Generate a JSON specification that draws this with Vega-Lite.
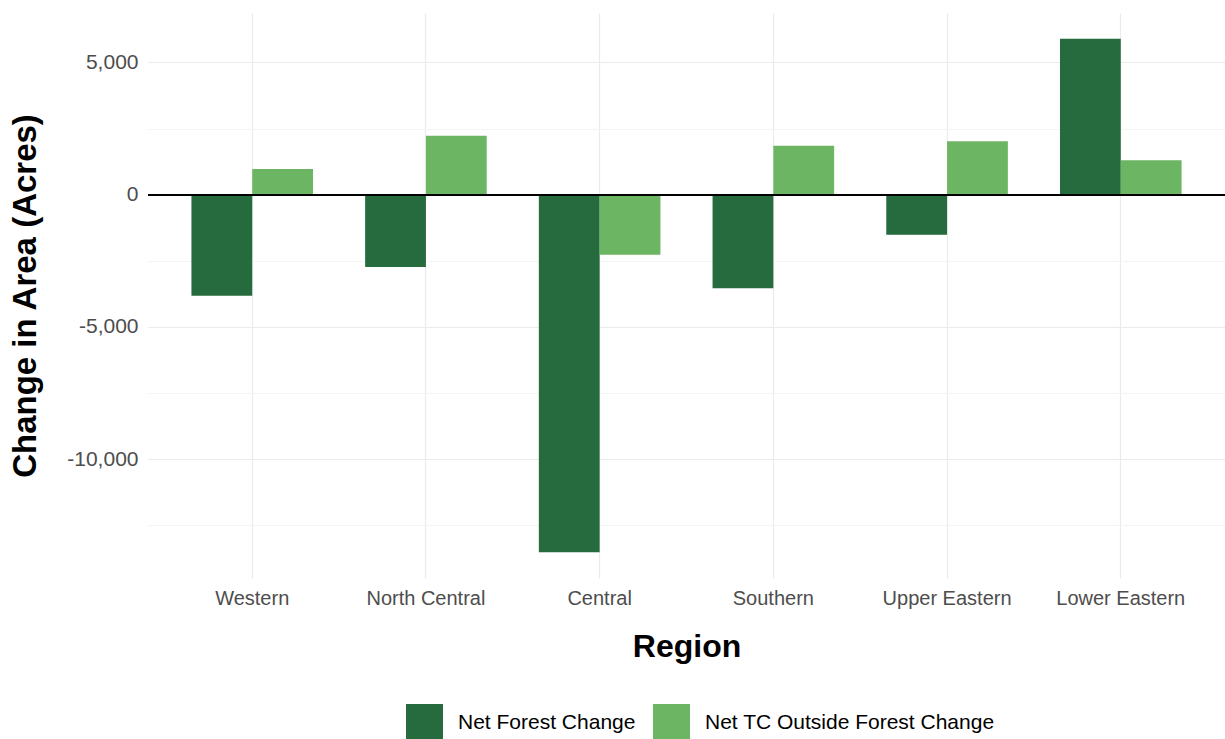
{
  "$schema": "https://vega.github.io/schema/vega-lite/v6.json",
  "autosize": {"type": "none"},
  "width": 1077,
  "height": 565,
  "padding": {"left": 148, "top": 13, "right": 0, "bottom": 161},
  "background": "white",
  "config": {
    "view": {"stroke": null},
    "font": "Liberation Sans"
  },
  "data": {
    "values": [
      {"region": "Western", "type": "Net Forest Change", "value": -3817},
      {"region": "Western", "type": "Net TC Outside Forest Change", "value": 971},
      {"region": "North Central", "type": "Net Forest Change", "value": -2733},
      {"region": "North Central", "type": "Net TC Outside Forest Change", "value": 2230},
      {"region": "Central", "type": "Net Forest Change", "value": -13518},
      {"region": "Central", "type": "Net TC Outside Forest Change", "value": -2268},
      {"region": "Southern", "type": "Net Forest Change", "value": -3540},
      {"region": "Southern", "type": "Net TC Outside Forest Change", "value": 1852},
      {"region": "Upper Eastern", "type": "Net Forest Change", "value": -1512},
      {"region": "Upper Eastern", "type": "Net TC Outside Forest Change", "value": 2016},
      {"region": "Lower Eastern", "type": "Net Forest Change", "value": 5896},
      {"region": "Lower Eastern", "type": "Net TC Outside Forest Change", "value": 1297}
    ]
  },
  "layer": [
    {
      "mark": {"type": "bar"},
      "encoding": {
        "x": {
          "field": "region",
          "type": "nominal",
          "sort": ["Western", "North Central", "Central", "Southern", "Upper Eastern", "Lower Eastern"],
          "scale": {"paddingInner": 0.3, "paddingOuter": 0.25},
          "axis": {
            "title": "Region",
            "titleFontSize": 32,
            "titleFontWeight": "bold",
            "titleColor": "black",
            "titlePadding": 23,
            "labelAngle": 0,
            "labelFontSize": 20,
            "labelColor": "#4d4d4d",
            "labelPadding": 10,
            "labelLimit": 0,
            "ticks": false,
            "domain": false,
            "grid": true,
            "gridColor": "#ebebeb",
            "gridWidth": 1.2,
            "bandPosition": 0.5
          }
        },
        "xOffset": {
          "field": "type",
          "type": "nominal",
          "sort": ["Net Forest Change", "Net TC Outside Forest Change"]
        },
        "y": {
          "field": "value",
          "type": "quantitative",
          "scale": {"domain": [-14488, 6867], "nice": false, "zero": false},
          "axis": {
            "title": "Change in Area (Acres)",
            "titleFontSize": 33,
            "titleFontWeight": "bold",
            "titleColor": "black",
            "titlePadding": 24,
            "values": [-12500, -10000, -7500, -5000, -2500, 0, 2500, 5000],
            "labelExpr": "datum.value % 5000 === 0 ? replace(format(datum.value, ','), '\u2212', '-') : ''",
            "labelFontSize": 21,
            "labelColor": "#4d4d4d",
            "labelPadding": 10,
            "ticks": false,
            "domain": false,
            "grid": true,
            "gridColor": {"condition": {"test": "datum.value % 5000 === 0", "value": "#ebebeb"}, "value": "#f4f4f4"},
            "gridWidth": 1.2
          }
        },
        "color": {
          "field": "type",
          "type": "nominal",
          "sort": ["Net Forest Change", "Net TC Outside Forest Change"],
          "scale": {"range": ["#256b3d", "#6cb562"]},
          "legend": {
            "title": null,
            "orient": "none",
            "direction": "horizontal",
            "legendX": 258,
            "legendY": 691,
            "symbolType": "square",
            "symbolSize": 1369,
            "symbolStrokeWidth": 0,
            "labelFontSize": 21,
            "labelColor": "black",
            "labelOffset": 15,
            "labelLimit": 0,
            "columnPadding": 17,
            "symbolOffset": 0
          }
        }
      }
    },
    {
      "mark": {"type": "rule", "color": "black", "strokeWidth": 1.5},
      "encoding": {"y": {"datum": 0}}
    }
  ]
}
